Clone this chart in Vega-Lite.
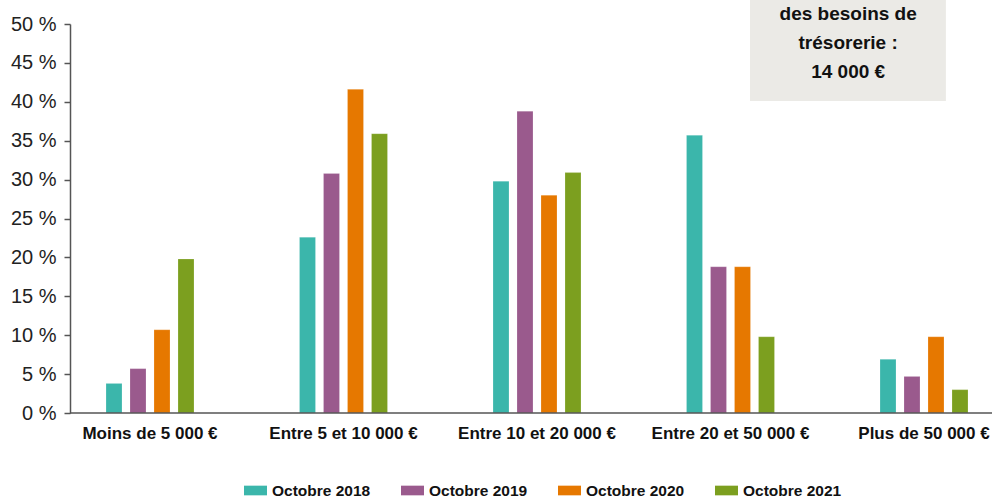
{
  "$schema": "https://vega.github.io/schema/vega-lite/v6.json",
  "width": 922,
  "height": 389,
  "autosize": {"type": "none"},
  "padding": {"left": 70, "top": 24, "right": 0, "bottom": 86},
  "background": "white",
  "config": {
    "view": {"stroke": null},
    "font": "Liberation Sans, Arial, sans-serif"
  },
  "layer": [
    {
      "data": {"values": [
        {"tranche": "Moins de 5 000 €", "annee": "Octobre 2018", "valeur": 3.8},
        {"tranche": "Moins de 5 000 €", "annee": "Octobre 2019", "valeur": 5.7},
        {"tranche": "Moins de 5 000 €", "annee": "Octobre 2020", "valeur": 10.7},
        {"tranche": "Moins de 5 000 €", "annee": "Octobre 2021", "valeur": 19.8},
        {"tranche": "Entre 5 et 10 000 €", "annee": "Octobre 2018", "valeur": 22.6},
        {"tranche": "Entre 5 et 10 000 €", "annee": "Octobre 2019", "valeur": 30.8},
        {"tranche": "Entre 5 et 10 000 €", "annee": "Octobre 2020", "valeur": 41.6},
        {"tranche": "Entre 5 et 10 000 €", "annee": "Octobre 2021", "valeur": 35.9},
        {"tranche": "Entre 10 et 20 000 €", "annee": "Octobre 2018", "valeur": 29.8},
        {"tranche": "Entre 10 et 20 000 €", "annee": "Octobre 2019", "valeur": 38.8},
        {"tranche": "Entre 10 et 20 000 €", "annee": "Octobre 2020", "valeur": 28.0},
        {"tranche": "Entre 10 et 20 000 €", "annee": "Octobre 2021", "valeur": 30.9},
        {"tranche": "Entre 20 et 50 000 €", "annee": "Octobre 2018", "valeur": 35.7},
        {"tranche": "Entre 20 et 50 000 €", "annee": "Octobre 2019", "valeur": 18.8},
        {"tranche": "Entre 20 et 50 000 €", "annee": "Octobre 2020", "valeur": 18.8},
        {"tranche": "Entre 20 et 50 000 €", "annee": "Octobre 2021", "valeur": 9.8},
        {"tranche": "Plus de 50 000 €", "annee": "Octobre 2018", "valeur": 6.9},
        {"tranche": "Plus de 50 000 €", "annee": "Octobre 2019", "valeur": 4.7},
        {"tranche": "Plus de 50 000 €", "annee": "Octobre 2020", "valeur": 9.8},
        {"tranche": "Plus de 50 000 €", "annee": "Octobre 2021", "valeur": 3.0}
      ]},
      "mark": {"type": "bar", "stroke": "white", "strokeOpacity": 0.4, "strokeWidth": 0.5},
      "encoding": {
        "x": {
          "field": "tranche", "type": "nominal",
          "sort": ["Moins de 5 000 €", "Entre 5 et 10 000 €", "Entre 10 et 20 000 €", "Entre 20 et 50 000 €", "Plus de 50 000 €"],
          "scale": {"range": [-16.75, 950.75], "paddingInner": 0, "paddingOuter": 0},
          "axis": {"title": null, "domain": false, "ticks": false, "labelAngle": 0, "labelFontSize": 17, "labelFontWeight": "bold", "labelPadding": 12, "labelColor": "#111111", "labelOverlap": false, "labelBound": false, "labelFlush": false}
        },
        "xOffset": {"field": "annee", "type": "nominal", "scale": {"range": [52.75, 140.75], "paddingInner": 0.3333, "paddingOuter": 0}},
        "y": {
          "field": "valeur", "type": "quantitative",
          "scale": {"domain": [0, 50], "nice": false},
          "axis": {"title": null, "grid": false, "values": [0, 5, 10, 15, 20, 25, 30, 35, 40, 45, 50], "labelOverlap": false, "labelSeparation": 0, "labelExpr": "datum.value + ' %'", "domainColor": "#555555", "domainWidth": 1.5, "tickColor": "#555555", "tickWidth": 1.5, "tickSize": 6, "labelFontSize": 20, "labelColor": "#222222", "labelPadding": 8}
        },
        "color": {
          "field": "annee", "type": "nominal",
          "scale": {"domain": ["Octobre 2018", "Octobre 2019", "Octobre 2020", "Octobre 2021"], "range": ["#3BB6AB", "#9A5A8D", "#E67800", "#7C9F1F"]},
          "legend": {"title": null, "orient": "none", "legendX": 174, "legendY": 455, "direction": "horizontal", "symbolType": "M-1,-0.42H1V0.42H-1Z", "symbolSize": 529, "symbolStrokeWidth": 0, "labelFontSize": 15.5, "labelFontWeight": "bold", "labelColor": "#111111", "labelOffset": 5, "columnPadding": 30}
        }
      }
    },
    {
      "data": {"values": [{"zero": 0}]},
      "mark": {"type": "rule", "color": "#555555", "strokeWidth": 1.5},
      "encoding": {"y": {"field": "zero", "type": "quantitative", "scale": {"domain": [0, 50], "nice": false}, "axis": null}}
    },
    {
      "data": {"values": [{"x1": 73.75, "x2": 95.0, "y1": 40.1, "y2": 53.1}]},
      "mark": {"type": "rect", "color": "#EBEAE6"},
      "encoding": {
        "x": {"field": "x1", "type": "quantitative", "scale": {"domain": [0, 100], "nice": false}, "axis": null},
        "x2": {"field": "x2"},
        "y": {"field": "y1", "type": "quantitative", "scale": {"domain": [0, 50], "nice": false}, "axis": null},
        "y2": {"field": "y2"}
      }
    },
    {
      "data": {"values": [{"xm": 84.4, "ym": 51.3, "texte": ["des besoins de", "trésorerie :", "14 000 €"]}]},
      "mark": {"type": "text", "fontSize": 19, "fontWeight": "bold", "color": "#111111", "align": "center", "baseline": "middle", "lineHeight": 29},
      "encoding": {
        "x": {"field": "xm", "type": "quantitative", "scale": {"domain": [0, 100], "nice": false}, "axis": null},
        "y": {"field": "ym", "type": "quantitative", "scale": {"domain": [0, 50], "nice": false}, "axis": null},
        "text": {"field": "texte"}
      }
    }
  ],
  "resolve": {"scale": {"x": "independent"}, "axis": {"y": "independent"}}
}
